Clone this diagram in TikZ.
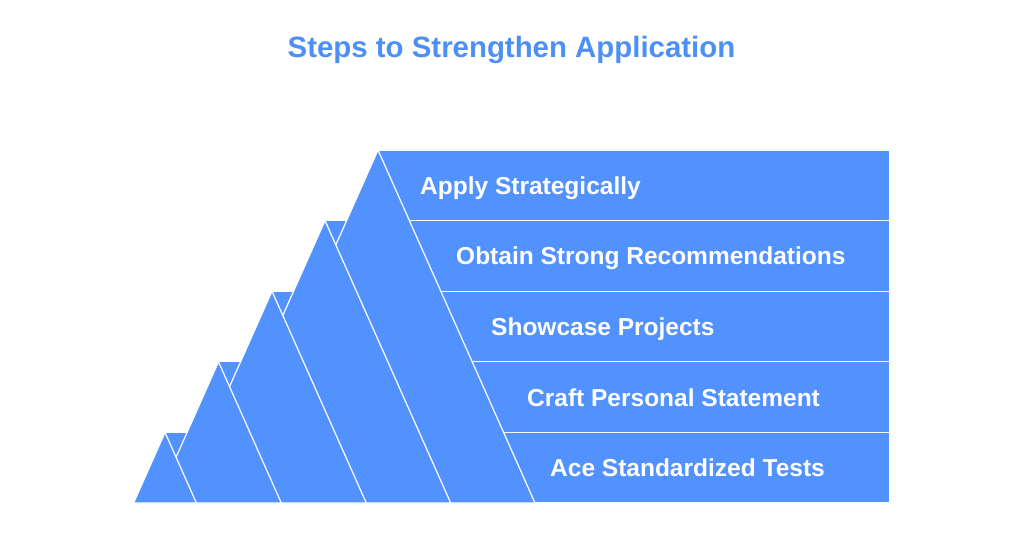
\documentclass[tikz,border=0pt]{standalone}
\usepackage{fontspec}
\setmainfont{Liberation Sans}
\usepackage{xcolor}
\usepackage{tikz}

\definecolor{stepblue}{RGB}{82,146,255}
\definecolor{titleblue}{RGB}{76,144,246}

\begin{document}
\begin{tikzpicture}[
    x=1pt, y=-1pt,
    band/.style={fill=stepblue, draw=white, line width=1.2pt},
    peak/.style={fill=stepblue, draw=white, line width=1.2pt},
    steplabel/.style={anchor=base west, inner sep=0pt, text=white, font=\bfseries\fontsize{24.5}{29}\selectfont}
]

% Canvas
\fill[white] (0,0) rectangle (1024,536);
\useasboundingbox (0,0) rectangle (1024,536);

\node[text=titleblue, font=\bfseries\fontsize{29.4}{34}\selectfont] (title) at (511.5, 50) {Steps to Strengthen Application};

% Bands (one per step, top to bottom)
\draw[band] (378, 150.0) rectangle (890, 220.6);
\draw[band] (325, 220.6) rectangle (890, 291.2);
\draw[band] (272, 291.2) rectangle (890, 361.8);
\draw[band] (218.5, 361.8) rectangle (890, 432.4);
\draw[band] (165, 432.4) rectangle (890, 503.0);

% Peaks (largest first, smaller ones in front)
\draw[peak] (221.0, 503) -- (378.0, 150.0) -- (535.0, 503) -- cycle;
\draw[peak] (199.3, 503) -- (325.0, 220.6) -- (450.7, 503) -- cycle;
\draw[peak] (177.7, 503) -- (272.0, 291.2) -- (366.3, 503) -- cycle;
\draw[peak] (155.7, 503) -- (218.5, 361.8) -- (281.3, 503) -- cycle;
\draw[peak] (133.6, 503) -- (165.0, 432.4) -- (196.4, 503) -- cycle;

% Step labels
\node[steplabel] (apply) at (420, 194.2) {Apply Strategically};
\node[steplabel] (obtain) at (456, 264.8) {Obtain Strong Recommendations};
\node[steplabel] (showcase) at (491, 335.4) {Showcase Projects};
\node[steplabel] (craft) at (527, 406.0) {Craft Personal Statement};
\node[steplabel] (ace) at (550, 476.6) {Ace Standardized Tests};

\end{tikzpicture}
\end{document}
